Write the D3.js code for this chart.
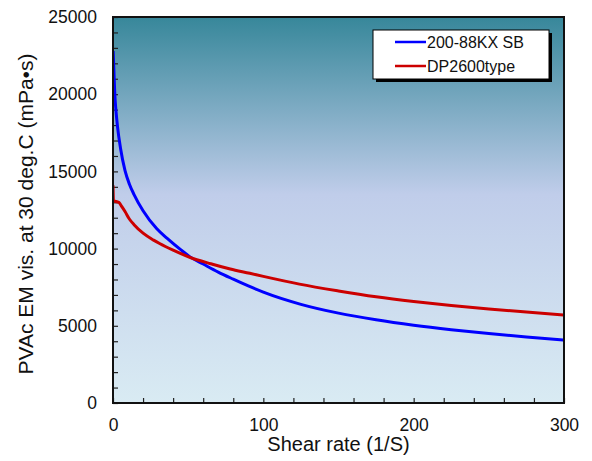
<!DOCTYPE html>
<html>
<head>
<meta charset="utf-8">
<script src="https://cdn.jsdelivr.net/npm/d3@7"></script>
<style>
  body { margin: 0; background: #fff; }
  text { font-family: "Liberation Sans", Arial, sans-serif; fill: #111; }
</style>
</head>
<body>
<svg width="592" height="461"></svg>
<script>
// values
var seriesNames = ["200-88KX SB", "DP2600type"];
var seriesColors = ["#0000ff", "#cc0000"];

var blueRate = [0.1, 0.6, 1.2, 2, 3, 5, 8, 11, 14, 20, 29, 37, 45, 51, 60, 70, 80, 90, 100, 125, 150, 175, 200, 225, 250, 275, 300];
var blueVis  = [22800, 21500, 20000, 18900, 17900, 16500, 15050, 14150, 13500, 12450, 11300, 10580, 9930, 9480, 9000, 8480, 8020, 7580, 7180, 6390, 5820, 5390, 5040, 4750, 4500, 4280, 4080];

var redRate = [0, 0.3, 2, 4, 6, 8, 11, 14, 20, 27, 31, 40, 51, 65, 78, 91, 100, 124, 150, 175, 200, 225, 250, 275, 300];
var redVis  = [14100, 13100, 13050, 12980, 12700, 12400, 11900, 11550, 11000, 10550, 10330, 9900, 9440, 9020, 8680, 8400, 8200, 7700, 7260, 6885, 6580, 6320, 6090, 5890, 5700];

var xTicks = d3.range(0, 301, 20);
var yTicks = d3.range(0, 25001, 1000);

var svg = d3.select("svg"),
    margin = {top: 17, right: 28, bottom: 58, left: 113},
    width = 592 - margin.left - margin.right,
    height = 461 - margin.top - margin.bottom;

var x = d3.scaleLinear().domain([0, 300]).range([0, width]);
var y = d3.scaleLinear().domain([0, 25000]).range([height, 0]);

var defs = svg.append("defs");
var grad = defs.append("linearGradient")
    .attr("id", "bg")
    .attr("x1", 0).attr("y1", 0).attr("x2", 0).attr("y2", 1);
grad.append("stop").attr("offset", "0%").attr("stop-color", "#37879a");
grad.append("stop").attr("offset", "46%").attr("stop-color", "#c0cdea");
grad.append("stop").attr("offset", "100%").attr("stop-color", "#d9ebf3");

defs.append("clipPath").attr("id", "clip")
  .append("rect").attr("width", width).attr("height", height);

var g = svg.append("g").attr("transform", "translate(" + margin.left + "," + margin.top + ")");

g.append("rect")
    .attr("width", width)
    .attr("height", height)
    .attr("fill", "url(#bg)");

var xAxis = g.append("g")
    .attr("transform", "translate(0," + height + ")")
    .call(d3.axisBottom(x)
      .tickValues(xTicks)
      .tickSize(-5)
      .tickPadding(16)
      .tickFormat(d => d % 100 === 0 ? d : ""));

var yAxis = g.append("g")
    .call(d3.axisLeft(y)
      .tickValues(yTicks)
      .tickSize(-5)
      .tickPadding(16)
      .tickFormat(d => d % 5000 === 0 ? d : ""));

[xAxis, yAxis].forEach(function(a) {
  a.select(".domain").remove();
  a.selectAll(".tick line").attr("stroke", "#222").attr("stroke-width", 1.2);
  a.selectAll(".tick text").style("font-size", "17.5px").attr("fill", "#111");
});

var line = d3.line()
    .x(d => x(d[0]))
    .y(d => y(d[1]))
    .curve(d3.curveMonotoneX);

var series = [d3.zip(blueRate, blueVis), d3.zip(redRate, redVis)];

g.append("g").attr("clip-path", "url(#clip)")
  .selectAll("path")
  .data(series)
  .enter().append("path")
    .attr("d", line)
    .attr("fill", "none")
    .attr("stroke", (d, i) => seriesColors[i])
    .attr("stroke-width", 3);

g.append("rect")
    .attr("width", width)
    .attr("height", height)
    .attr("fill", "none")
    .attr("stroke", "#111")
    .attr("stroke-width", 2);

// legend
var lg = g.append("g").attr("transform", "translate(" + (373 - margin.left) + "," + (30 - margin.top) + ")");
lg.append("rect")
    .attr("x", 3).attr("y", 3)
    .attr("width", 176).attr("height", 49)
    .attr("fill", "#000");
lg.append("rect")
    .attr("width", 176).attr("height", 49)
    .attr("fill", "#fff")
    .attr("stroke", "#000")
    .attr("stroke-width", 1);

var item = lg.selectAll(".item")
  .data(seriesNames)
  .enter().append("g")
    .attr("class", "item")
    .attr("transform", (d, i) => "translate(0," + (12 + i * 24) + ")");

item.append("line")
    .attr("x1", 22).attr("x2", 53)
    .attr("stroke", (d, i) => seriesColors[i])
    .attr("stroke-width", 2.5);

item.append("text")
    .attr("x", 54)
    .attr("y", 5.5)
    .style("font-size", "16px")
    .text(d => d);

// axis titles
svg.append("text")
    .attr("x", margin.left + width / 2)
    .attr("y", 451)
    .attr("text-anchor", "middle")
    .style("font-size", "20px")
    .text("Shear rate (1/S)");

svg.append("text")
    .attr("transform", "translate(33," + 214 + ") rotate(-90)")
    .attr("text-anchor", "middle")
    .style("font-size", "21px")
    .text("PVAc EM vis. at 30 deg.C (mPa\u2022s)");
</script>
</body>
</html>
